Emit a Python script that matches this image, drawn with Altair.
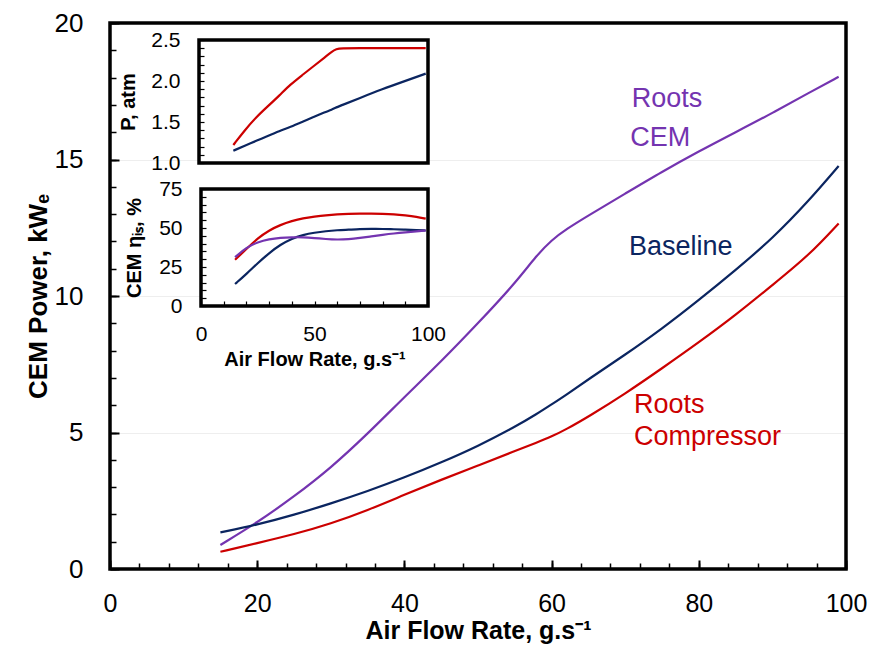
import altair as alt
import pandas as pd

# ---------------- main chart data (CEM power vs air flow) ----------------
flow = [15, 20, 25, 30, 35, 40, 45, 50, 55, 58, 60, 62, 65, 70, 75, 80, 85, 90, 95, 99]
baseline = [1.34, 1.62, 1.98, 2.40, 2.85, 3.35, 3.90, 4.50, 5.20, 5.68, 6.03, 6.38, 6.95, 7.85, 8.80, 9.85, 10.95, 12.10, 13.50, 14.76]
roots_compressor = [0.63, 0.95, 1.27, 1.66, 2.15, 2.72, 3.27, 3.79, 4.32, 4.63, 4.85, 5.12, 5.58, 6.42, 7.35, 8.30, 9.30, 10.40, 11.50, 12.66]
roots_cem = [0.88, 1.70, 2.65, 3.70, 4.95, 6.30, 7.60, 9.00, 10.45, 11.50, 12.05, 12.45, 12.95, 13.75, 14.55, 15.30, 16.00, 16.70, 17.45, 18.03]

label_text = ["Roots", "CEM", "Baseline", "Roots", "Compressor"]
label_flow = [70.9, 70.7, 70.5, 71.2, 71.2]
label_power = [17.2, 15.8, 11.8, 6.0, 4.84]
label_series = ["Roots CEM", "Roots CEM", "Baseline", "Roots Compressor", "Roots Compressor"]

# ---------------- inset 1: pressure ----------------
p_flow = [15, 20, 25, 30, 35, 40, 45, 50, 55, 58, 60, 62, 70, 80, 90, 99]
p_baseline = [1.15, 1.21, 1.27, 1.33, 1.39, 1.44, 1.50, 1.56, 1.62, 1.65, 1.68, 1.70, 1.79, 1.90, 2.00, 2.09]
p_roots = [1.22, 1.40, 1.56, 1.69, 1.82, 1.96, 2.07, 2.18, 2.29, 2.36, 2.39, 2.40, 2.40, 2.40, 2.40, 2.40]

# ---------------- inset 2: CEM efficiency ----------------
e_flow = [15, 20, 25, 30, 35, 40, 45, 50, 55, 60, 65, 70, 75, 80, 85, 90, 95, 99]
e_baseline = [14.1, 20.5, 27.5, 34.0, 39.3, 43.3, 45.6, 47.0, 48.0, 48.6, 48.9, 49.3, 49.4, 49.4, 49.2, 49.0, 48.7, 48.4]
e_roots_compressor = [29.6, 36.5, 43.5, 48.5, 52.0, 54.5, 56.3, 57.3, 58.2, 58.8, 59.1, 59.2, 59.2, 59.1, 58.8, 58.1, 57.2, 56.0]
e_roots_cem = [31.3, 37.5, 41.0, 42.9, 43.8, 44.1, 44.1, 43.6, 42.9, 42.5, 42.8, 43.6, 44.6, 45.6, 46.5, 47.2, 47.8, 48.4]

series_names = ["Roots CEM", "Baseline", "Roots Compressor"]
series_colors = ["#7434B0", "#0B2560", "#CC0000"]

# axis tick values and domains
main_domain_x = [0, 100]
main_domain_y = [0, 20]
main_x_labels = [0, 20, 40, 60, 80, 100]
main_y_labels = [0, 5, 10, 15, 20]
main_x_minor = list(range(0, 101, 4))
main_y_minor = list(range(0, 21))
p_y_labels = [1.0, 1.5, 2.0, 2.5]
p_y_minor = [round(1.0 + 0.1 * i, 1) for i in range(16)]
e_y_labels = [0, 25, 50, 75]
e_y_minor = list(range(0, 76, 5))
e_x_labels = [0, 50, 100]
e_x_minor = list(range(0, 101, 10))
p_domain_x = [0, 100]
p_domain_y = [1.0, 2.5]
e_domain_x = [0, 100]
e_domain_y = [0, 75]

# ---------------- layout constants ----------------
W, H = 736, 546
FONT = "Liberation Sans"
P_X_RANGE = [89, 318]
P_Y_RANGE = [140, 17]
E_X_RANGE = [91, 318]
E_Y_RANGE = [283, 166]

color_scale = alt.Scale(domain=series_names, range=series_colors)


def long_df(xs, cols):
    rows = []
    for name, vals in cols.items():
        for x, v in zip(xs, vals):
            rows.append({"flow": x, "value": v, "series": name})
    return pd.DataFrame(rows)


def frame_df(dx, dy):
    return pd.DataFrame({"x0": [dx[0]], "x1": [dx[1]], "y0": [dy[0]], "y1": [dy[1]]})


main_df = long_df(flow, {"Roots CEM": roots_cem, "Baseline": baseline, "Roots Compressor": roots_compressor})
p_df = long_df(p_flow, {"Baseline": p_baseline, "Roots Compressor": p_roots})
e_df = long_df(e_flow, {"Baseline": e_baseline, "Roots Compressor": e_roots_compressor, "Roots CEM": e_roots_cem})
label_df = pd.DataFrame({"flow": label_flow, "value": label_power, "text": label_text, "series": label_series})

main_x = alt.Scale(domain=main_domain_x, nice=False, zero=False)
main_y = alt.Scale(domain=main_domain_y, nice=False, zero=False)
p_x = alt.Scale(domain=p_domain_x, range=P_X_RANGE, nice=False, zero=False)
p_y = alt.Scale(domain=p_domain_y, range=P_Y_RANGE, nice=False, zero=False)
e_x = alt.Scale(domain=e_domain_x, range=E_X_RANGE, nice=False, zero=False)
e_y = alt.Scale(domain=e_domain_y, range=E_Y_RANGE, nice=False, zero=False)


def tick_axis(orient, offset, values, size, width=1.5):
    return alt.Axis(orient=orient, offset=offset, values=values, labels=False, domain=False,
                    grid=False, ticks=True, tickSize=size, tickWidth=width, tickColor="black",
                    title=None, zindex=1)


# ---------------- main group ----------------
main_frame_df = frame_df(main_domain_x, main_domain_y)
main_frame = alt.Chart(main_frame_df).mark_rect(
    fill="white", fillOpacity=0, stroke="black", strokeWidth=3.5
).encode(
    x=alt.X("x0:Q", scale=main_x, axis=None), x2="x1:Q",
    y=alt.Y("y0:Q", scale=main_y, axis=None), y2="y1:Q",
)

main_lines = alt.Chart(main_df).mark_line(strokeWidth=2.2, interpolate="basis").encode(
    x=alt.X("flow:Q", scale=main_x, axis=alt.Axis(
        orient="bottom", values=main_x_labels, format="d", ticks=False, domain=False, grid=False,
        labelFontSize=25, labelPadding=22, labelFlush=False, labelColor="black",
        title="Air Flow Rate, g.s⁻¹", titleFontSize=25, titleFontWeight="bold", titlePadding=2,
        titleColor="black")),
    y=alt.Y("value:Q", scale=main_y, axis=alt.Axis(
        orient="left", values=main_y_labels, format="d", ticks=False, domain=False, grid=True,
        gridColor="#eeeeee", gridWidth=1, labelFontSize=26, labelPadding=27, labelFlush=False,
        labelColor="black", title="CEM Power, kWₑ", titleFontSize=26, titleFontWeight="bold",
        titlePadding=3, titleColor="black")),
    color=alt.Color("series:N", scale=color_scale, legend=None),
)

main_text = alt.Chart(label_df).mark_text(align="left", baseline="middle", fontSize=27, font=FONT).encode(
    x=alt.X("flow:Q", scale=main_x, axis=None),
    y=alt.Y("value:Q", scale=main_y, axis=None),
    text="text:N",
    color=alt.Color("series:N", scale=color_scale, legend=None),
)

main_minor = alt.Chart(main_df).mark_point(opacity=0, size=0).encode(
    x=alt.X("flow:Q", scale=main_x, axis=tick_axis("top", -H, main_x_minor, 6)),
    y=alt.Y("value:Q", scale=main_y, axis=tick_axis("right", -W, main_y_minor, 6)),
)
main_major = alt.Chart(main_df).mark_point(opacity=0, size=0).encode(
    x=alt.X("flow:Q", scale=main_x, axis=tick_axis("top", -H, main_x_labels, 9, 2)),
    y=alt.Y("value:Q", scale=main_y, axis=tick_axis("right", -W, main_y_labels, 9, 2)),
)

main_group = alt.layer(main_lines, main_frame, main_text, main_minor, main_major).resolve_axis(
    x="independent", y="independent")

# ---------------- pressure inset ----------------
p_frame_df = frame_df(p_domain_x, p_domain_y)
p_frame = alt.Chart(p_frame_df).mark_rect(fill="white", stroke="black", strokeWidth=3.5).encode(
    x=alt.X("x0:Q", scale=p_x, axis=None),
    x2="x1:Q",
    y=alt.Y("y0:Q", scale=p_y, axis=alt.Axis(
        orient="left", offset=-P_X_RANGE[0], values=p_y_labels, format=".1f", ticks=False,
        domain=False, grid=False, labelFontSize=21, labelPadding=19, labelFlush=False,
        labelColor="black", title="P, atm", titleFontSize=20, titleFontWeight="bold",
        titlePadding=12, titleColor="black")),
    y2="y1:Q",
)
p_lines = alt.Chart(p_df).mark_line(strokeWidth=2.2, interpolate="basis").encode(
    x=alt.X("flow:Q", scale=p_x, axis=None),
    y=alt.Y("value:Q", scale=p_y, axis=None),
    color=alt.Color("series:N", scale=color_scale, legend=None),
)
p_ticks = alt.Chart(p_frame_df).mark_point(opacity=0, size=0).encode(
    x=alt.X("x0:Q", scale=p_x, axis=None),
    y=alt.Y("y0:Q", scale=p_y, axis=tick_axis("right", -(W - P_X_RANGE[0]), p_y_minor, 5, 1.2)),
)
p_group = alt.layer(p_frame, p_lines, p_ticks).resolve_axis(x="independent", y="independent")

# ---------------- efficiency inset ----------------
e_frame_df = frame_df(e_domain_x, e_domain_y)
e_frame = alt.Chart(e_frame_df).mark_rect(fill="white", stroke="black", strokeWidth=3.5).encode(
    x=alt.X("x0:Q", scale=e_x, axis=alt.Axis(
        orient="bottom", offset=-(H - E_Y_RANGE[0]), values=e_x_labels, format="d", ticks=False,
        domain=False, grid=False, labelFontSize=21, labelPadding=17, labelFlush=False,
        labelColor="black", title="Air Flow Rate, g.s⁻¹", titleFontSize=20,
        titleFontWeight="bold", titlePadding=5, titleColor="black")),
    x2="x1:Q",
    y=alt.Y("y0:Q", scale=e_y, axis=alt.Axis(
        orient="left", offset=-E_X_RANGE[0], values=e_y_labels, format="d", ticks=False,
        domain=False, grid=False, labelFontSize=21, labelPadding=19, labelFlush=False,
        labelColor="black", title="CEM ηᵢₛ, %", titleFontSize=20, titleFontWeight="bold",
        titlePadding=14, titleColor="black")),
    y2="y1:Q",
)
e_lines = alt.Chart(e_df).mark_line(strokeWidth=2.2, interpolate="basis").encode(
    x=alt.X("flow:Q", scale=e_x, axis=None),
    y=alt.Y("value:Q", scale=e_y, axis=None),
    color=alt.Color("series:N", scale=color_scale, legend=None),
)
e_ticks = alt.Chart(e_frame_df).mark_point(opacity=0, size=0).encode(
    x=alt.X("x0:Q", scale=e_x, axis=tick_axis("top", -E_Y_RANGE[0], e_x_minor, 5, 1.2)),
    y=alt.Y("y0:Q", scale=e_y, axis=tick_axis("right", -(W - E_X_RANGE[0]), e_y_minor, 5, 1.2)),
)
e_group = alt.layer(e_frame, e_lines, e_ticks).resolve_axis(x="independent", y="independent")

chart = alt.layer(main_group, p_group, e_group).resolve_scale(
    x="independent", y="independent"
).properties(
    width=W, height=H,
    autosize=alt.AutoSizeParams(type="none"),
    padding={"left": 102, "top": 15, "right": 21, "bottom": 75},
).configure_view(
    stroke="black", strokeWidth=3.5
).configure_axis(
    labelFont=FONT, titleFont=FONT
).configure(background="white")

chart.save("out.html", embed_options={"renderer": "svg", "actions": False})
